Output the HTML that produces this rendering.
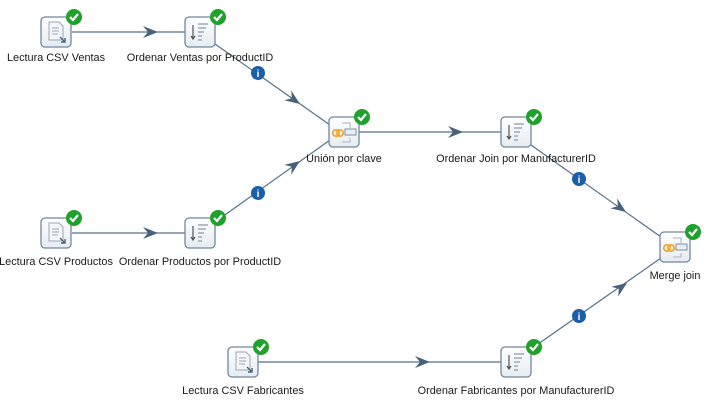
<!DOCTYPE html>
<html><head><meta charset="utf-8"><style>
html,body{margin:0;padding:0;background:#fff;}
svg{display:block;font-family:"Liberation Sans",sans-serif;}
text{font-size:10.9px;fill:#1a1a1a;text-anchor:middle;}
</style></head><body>
<svg width="710" height="407" viewBox="0 0 710 407" xmlns="http://www.w3.org/2000/svg">
<defs>
<linearGradient id="bg" x1="0" y1="0" x2="0" y2="1"><stop offset="0" stop-color="#ffffff"/><stop offset="1" stop-color="#e6ecf2"/></linearGradient>
<g id="box"><rect x="-15" y="-15" width="30" height="30" rx="4" fill="url(#bg)" stroke="#6e889f" stroke-width="1.3"/></g>
<g id="ok"><circle r="8" fill="#1fa12c"/><path d="M-4,0 L-1,3 L4,-3" stroke="#fff" stroke-width="2.2" fill="none"/></g>
<g id="doc"><use href="#box"/><path d="M-7,-10 H3 L7,-6 V8 H-7 Z" fill="#f4f6f8" stroke="#98a8b8"/><path d="M-4,-4 H3 M-4,-1 H3 M-4,2 H2" stroke="#98a8b8"/><path d="M4,5 L9,10 M9,6 V10 H5" stroke="#4a6478" stroke-width="1.4" fill="none"/></g>
<g id="sort"><use href="#box"/><path d="M-7,-7 V6 M-9,4 L-7,7 L-5,4" stroke="#555" stroke-width="1.2" fill="none"/><path d="M-2,-8 H8 M-2,-4 H6 M-2,0 H4 M-2,4 H2 M-2,8 H2" stroke="#8a9aaa" stroke-width="1.3"/></g>
<g id="join"><use href="#box"/><circle cx="-8" cy="1" r="3.2" fill="none" stroke="#f4a11c" stroke-width="1.6"/><circle cx="-4" cy="1" r="3.2" fill="none" stroke="#f4a11c" stroke-width="1.6"/><path d="M-2,-9 H6 V-4 M-2,10 H6 V6" stroke="#a8b4c0" fill="none"/><rect x="1" y="-3" width="11" height="6" fill="#e8eef4" stroke="#7a90a4"/></g>
<g id="arr"><path d="M0,0 L-15,-6 L-10,0 L-15,6 Z" fill="#47637b"/></g>
<g id="info"><circle r="7" fill="#1a5fa8"/><text y="4" style="font-size:10px;font-weight:bold;fill:#fff">i</text></g>
</defs>
<g stroke="#56708a" stroke-width="1.2" fill="none">
<line x1="72" y1="32" x2="185" y2="32"/>
<line x1="215" y1="44" x2="330" y2="125"/>
<line x1="72" y1="233" x2="185" y2="233"/>
<line x1="215" y1="222" x2="330" y2="140"/>
<line x1="359" y1="132" x2="501" y2="132"/>
<line x1="531" y1="145" x2="661" y2="237"/>
<line x1="258" y1="362" x2="501" y2="362"/>
<line x1="531" y1="349" x2="661" y2="258"/>
</g>
<use href="#arr" transform="translate(158,32)"/>
<use href="#arr" transform="translate(300,104) rotate(35.2)"/>
<use href="#arr" transform="translate(158,233)"/>
<use href="#arr" transform="translate(300,161) rotate(-35.5)"/>
<use href="#arr" transform="translate(463,132)"/>
<use href="#arr" transform="translate(626,212) rotate(35.3)"/>
<use href="#arr" transform="translate(430,362)"/>
<use href="#arr" transform="translate(627,283) rotate(-35)"/>
<use href="#info" transform="translate(258,73)"/>
<use href="#info" transform="translate(258,193)"/>
<use href="#info" transform="translate(579,179)"/>
<use href="#info" transform="translate(579,316)"/>

<use href="#doc" transform="translate(56,32)"/><use href="#ok" transform="translate(74,17)"/>
<use href="#sort" transform="translate(200,32)"/><use href="#ok" transform="translate(218,17)"/>
<use href="#join" transform="translate(344,132)"/><use href="#ok" transform="translate(362,117)"/>
<use href="#sort" transform="translate(516,132)"/><use href="#ok" transform="translate(534,117)"/>
<use href="#doc" transform="translate(56,233)"/><use href="#ok" transform="translate(74,218)"/>
<use href="#sort" transform="translate(200,233)"/><use href="#ok" transform="translate(218,218)"/>
<use href="#join" transform="translate(675,247)"/><use href="#ok" transform="translate(693,232)"/>
<use href="#doc" transform="translate(243,362)"/><use href="#ok" transform="translate(261,347)"/>
<use href="#sort" transform="translate(516,362)"/><use href="#ok" transform="translate(534,347)"/>

<text x="56" y="61">Lectura CSV Ventas</text>
<text x="200" y="61">Ordenar Ventas por ProductID</text>
<text x="344" y="162">Unión por clave</text>
<text x="516" y="162">Ordenar Join por ManufacturerID</text>
<text x="56" y="265">Lectura CSV Productos</text>
<text x="200" y="265">Ordenar Productos por ProductID</text>
<text x="675" y="279">Merge join</text>
<text x="243" y="394">Lectura CSV Fabricantes</text>
<text x="516" y="394">Ordenar Fabricantes por ManufacturerID</text>
</svg>
</body></html>
